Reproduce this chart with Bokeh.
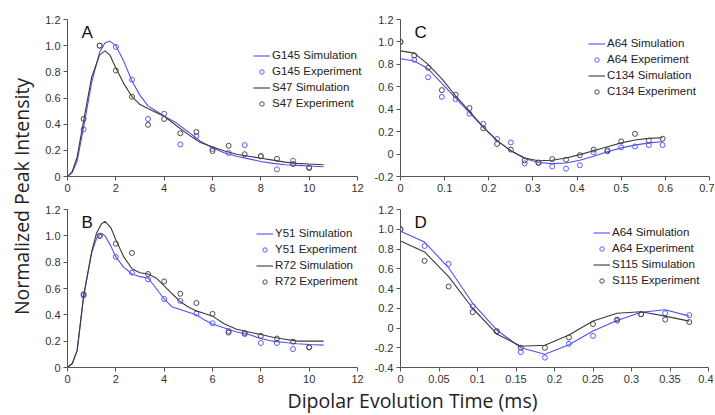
import math
from bokeh.plotting import figure
from bokeh.models import Range1d, FixedTicker, Legend, LegendItem, Label
from bokeh.layouts import row, column
from bokeh.embed import file_html
from bokeh.resources import INLINE
from bokeh.core.properties import value

# ---------------- data ----------------
# Panel A
a_exp_x = [0.667, 1.333, 2.0, 2.667, 3.333, 4.0, 4.667, 5.333, 6.0, 6.667, 7.333, 8.0, 8.667, 9.333, 10.0]
a_g145_exp = [0.36, 1.0, 0.99, 0.74, 0.44, 0.48, 0.245, 0.31, 0.21, 0.18, 0.24, 0.155, 0.055, 0.12, 0.07]
a_s47_exp = [0.44, 1.0, 0.81, 0.61, 0.395, 0.44, 0.33, 0.34, 0.195, 0.235, 0.17, 0.155, 0.135, 0.095, 0.065]
a_sim_x = [0, 0.2, 0.4, 0.67, 1.0, 1.33, 1.55, 1.75, 2.0, 2.33, 2.67, 3.0, 3.33, 3.67, 4.0, 4.5, 5.0,
           5.5, 6.0, 6.5, 7.0, 7.5, 8.0, 8.5, 9.0, 9.5, 10.0, 10.6]
a_g145_sim = [0, 0.03, 0.12, 0.38, 0.72, 0.95, 1.02, 1.035, 1.0, 0.88, 0.73, 0.62, 0.54, 0.5, 0.46, 0.41,
              0.34, 0.27, 0.22, 0.18, 0.155, 0.135, 0.115, 0.1, 0.09, 0.085, 0.08, 0.075]
a_s47_sim = [0, 0.04, 0.15, 0.43, 0.76, 0.93, 0.96, 0.93, 0.83, 0.71, 0.61, 0.55, 0.52, 0.49, 0.46, 0.39,
             0.32, 0.26, 0.225, 0.195, 0.17, 0.155, 0.14, 0.125, 0.11, 0.1, 0.095, 0.09]

# Panel B
b_exp_x = [0.667, 1.333, 2.0, 2.667, 3.333, 4.0, 4.667, 5.333, 6.0, 6.667, 7.333, 8.0, 8.667, 9.333, 10.0]
b_y51_exp = [0.547, 1.0, 0.84, 0.72, 0.67, 0.52, 0.506, 0.41, 0.336, 0.277, 0.254, 0.186, 0.186, 0.14, 0.153]
b_r72_exp = [0.557, 1.0, 0.94, 0.87, 0.71, 0.654, 0.56, 0.49, 0.407, 0.265, 0.262, 0.24, 0.22, 0.196, 0.153]
b_sim_x = [0, 0.2, 0.4, 0.67, 1.0, 1.2, 1.4, 1.55, 1.8, 2.0, 2.33, 2.67, 3.0, 3.33, 3.67, 4.0, 4.33, 4.67,
           5.0, 5.33, 5.67, 6.0, 6.5, 7.0, 7.5, 8.0, 8.5, 9.0, 9.5, 10.0, 10.6]
b_y51_sim = [0, 0.03, 0.13, 0.54, 0.87, 0.98, 1.02, 1.0, 0.92, 0.84, 0.76, 0.71, 0.69, 0.68, 0.6, 0.52,
             0.46, 0.44, 0.42, 0.4, 0.36, 0.33, 0.3, 0.27, 0.25, 0.22, 0.2, 0.19, 0.18, 0.175, 0.17]
b_r72_sim = [0, 0.03, 0.13, 0.55, 0.88, 1.02, 1.09, 1.11, 1.06, 0.97, 0.84, 0.75, 0.72, 0.71, 0.68, 0.62,
             0.56, 0.5, 0.46, 0.43, 0.41, 0.39, 0.33, 0.29, 0.27, 0.25, 0.23, 0.215, 0.2, 0.2, 0.2]

# Panel C
c_x = [0, 0.03125, 0.0625, 0.09375, 0.125, 0.15625, 0.1875, 0.21875, 0.25, 0.28125, 0.3125, 0.34375,
       0.375, 0.40625, 0.4375, 0.46875, 0.5, 0.53125, 0.5625, 0.59375]
c_a64_exp = [1.0, 0.84, 0.685, 0.51, 0.49, 0.36, 0.27, 0.134, 0.104, -0.083, -0.08, -0.11, -0.13, -0.1,
             0.015, 0.024, 0.06, 0.068, 0.08, 0.08]
c_c134_exp = [1.0, 0.88, 0.77, 0.57, 0.53, 0.41, 0.23, 0.09, 0.04, -0.057, -0.075, -0.045, -0.05, -0.01,
              0.04, 0.033, 0.113, 0.18, 0.12, 0.137]
c_a64_sim = [0.85, 0.83, 0.76, 0.63, 0.5, 0.37, 0.24, 0.12, 0.03, -0.04, -0.075, -0.085, -0.08, -0.055,
             -0.02, 0.02, 0.055, 0.08, 0.1, 0.11]
c_c134_sim = [0.92, 0.9, 0.8, 0.67, 0.52, 0.38, 0.24, 0.12, 0.03, -0.035, -0.06, -0.055, -0.035, -0.005,
              0.03, 0.065, 0.1, 0.125, 0.14, 0.145]

# Panel D
d_x = [0, 0.03125, 0.0625, 0.09375, 0.125, 0.15625, 0.1875, 0.21875, 0.25, 0.28125, 0.3125, 0.34375, 0.375]
d_a64_exp = [1.0, 0.83, 0.65, 0.22, -0.034, -0.244, -0.3, -0.16, -0.08, 0.075, 0.14, 0.15, 0.13]
d_s115_exp = [1.0, 0.68, 0.42, 0.16, -0.034, -0.2, -0.2, -0.095, 0.04, 0.085, 0.14, 0.085, 0.06]
d_a64_sim = [0.98, 0.87, 0.61, 0.25, -0.02, -0.2, -0.265, -0.17, -0.03, 0.075, 0.16, 0.185, 0.12]
d_s115_sim = [0.88, 0.77, 0.52, 0.2, -0.06, -0.185, -0.175, -0.07, 0.07, 0.15, 0.165, 0.12, 0.07]

# ticks
ab_xticks = [0, 2, 4, 6, 8, 10, 12]
ab_xlabels = ["0", "2", "4", "6", "8", "10", "12"]
ab_yticks = [0, 0.2, 0.4, 0.6, 0.8, 1.0, 1.2]
ab_ylabels = ["0", "0.2", "0.4", "0.6", "0.8", "1.0", "1.2"]
c_xticks = [0, 0.1, 0.2, 0.3, 0.4, 0.5, 0.6, 0.7]
c_xlabels = ["0", "0.1", "0.2", "0.3", "0.4", "0.5", "0.6", "0.7"]
c_yticks = [-0.2, 0, 0.2, 0.4, 0.6, 0.8, 1.0, 1.2]
c_ylabels = ["-0.2", "0", "0.2", "0.4", "0.6", "0.8", "1.0", "1.2"]
d_xticks = [0, 0.05, 0.1, 0.15, 0.2, 0.25, 0.3, 0.35, 0.4]
d_xlabels = ["0", "0.05", "0.1", "0.15", "0.2", "0.25", "0.3", "0.35", "0.4"]
d_yticks = [-0.4, -0.2, 0, 0.2, 0.4, 0.6, 0.8, 1.0, 1.2]
d_ylabels = ["-0.4", "-0.2", "0", "0.2", "0.4", "0.6", "0.8", "1.0", "1.2"]

BLUE = "#4f4ff5"
BLUE_PT = "#5a5aff"
DARK = "#3a3a3a"
DARK_PT = "#4a4a4a"
AXIS = "#555555"


def panel(xr, xmax_axis, yr, xt, xl, yt, yl, fw, fh, mbl, mbr, mbt, mbb):
    p = figure(frame_width=fw, frame_height=fh, x_range=Range1d(*xr), y_range=Range1d(*yr),
               output_backend="svg", toolbar_location=None,
               min_border_left=mbl, min_border_right=mbr, min_border_top=mbt, min_border_bottom=mbb)
    p.outline_line_color = None
    p.grid.visible = False
    p.background_fill_color = "white"
    p.border_fill_color = "white"
    p.xaxis.ticker = FixedTicker(ticks=xt)
    p.xaxis.major_label_overrides = dict(zip(xt, xl))
    p.xaxis.bounds = (xr[0], xmax_axis)
    p.yaxis.ticker = FixedTicker(ticks=yt)
    p.yaxis.major_label_overrides = dict(zip(yt, yl))
    for ax in (p.xaxis[0], p.yaxis[0]):
        ax.axis_line_color = AXIS
        ax.major_tick_line_color = AXIS
        ax.major_tick_in = 0
        ax.major_tick_out = 4
        ax.minor_tick_line_color = None
        ax.major_label_text_font = "Liberation Sans"
        ax.major_label_text_font_size = "11px"
        ax.major_label_text_color = "#333333"
        ax.major_label_standoff = 3
    return p


def add_series(p, sim_x, exp_x, s1, e1, s2, e2, names, loc, letter):
    r1 = p.line(sim_x, s1, line_color=BLUE, line_width=1.1)
    r2 = p.scatter(exp_x, e1, marker="circle", size=5, fill_color=None, line_color=BLUE_PT, line_width=1)
    r3 = p.line(sim_x, s2, line_color=DARK, line_width=1.1)
    r4 = p.scatter(exp_x, e2, marker="circle", size=5, fill_color=None, line_color=DARK_PT, line_width=1)
    items = [LegendItem(label=value(n), renderers=[r]) for n, r in zip(names, [r1, r2, r3, r4])]
    leg = Legend(items=items, location=loc, glyph_width=17, glyph_height=11, label_height=16,
                 label_standoff=2, spacing=0, padding=0, margin=0,
                 border_line_color=None, background_fill_alpha=0,
                 label_text_font="Liberation Sans", label_text_font_size="11.5px",
                 label_text_color="#222222")
    p.add_layout(leg)
    p.add_layout(Label(x=14, y=p.frame_height - 3, x_units="screen", y_units="screen", text=letter,
                       text_font="Liberation Sans", text_font_size="17px", text_color="#111111",
                       text_baseline="top", text_align="left"))


# A/B: 12 units over 290 px, frame extended to 304 px so legend text is not clipped
pA = panel((0, 12 * 304 / 290), 12, (0, 1.2), ab_xticks, ab_xlabels, ab_yticks, ab_ylabels,
           304, 157, 32, 0, 19, 21)
add_series(pA, a_sim_x, a_exp_x, a_g145_sim, a_g145_exp, a_s47_sim, a_s47_exp,
           ["G145 Simulation", "G145 Experiment", "S47 Simulation", "S47 Experiment"], (186, 65), "A")

pC = panel((0, 0.7 * 314 / 309), 0.7, (-0.2, 1.2), c_xticks, c_xlabels, c_yticks, c_ylabels,
           314, 157, 27, 0, 19, 21)
add_series(pC, c_x, c_x, c_a64_sim, c_a64_exp, c_c134_sim, c_c134_exp,
           ["A64 Simulation", "A64 Experiment", "C134 Simulation", "C134 Experiment"], (188, 77), "C")

pB = panel((0, 12 * 304 / 290), 12, (0, 1.2), ab_xticks, ab_xlabels, ab_yticks, ab_ylabels,
           304, 158, 32, 0, 12, 20)
add_series(pB, b_sim_x, b_exp_x, b_y51_sim, b_y51_exp, b_r72_sim, b_r72_exp,
           ["Y51 Simulation", "Y51 Experiment", "R72 Simulation", "R72 Experiment"], (189, 78), "B")

pD = panel((0, 0.4 * 313 / 308), 0.4, (-0.4, 1.2), d_xticks, d_xlabels, d_yticks, d_ylabels,
           313, 158, 28, 0, 12, 20)
add_series(pD, d_x, d_x, d_a64_sim, d_a64_exp, d_s115_sim, d_s115_exp,
           ["A64 Simulation", "A64 Experiment", "S115 Simulation", "S115 Experiment"], (193, 79), "D")


def text_fig(w, h):
    f = figure(width=w, height=h, output_backend="svg", toolbar_location=None,
               x_range=Range1d(0, w), y_range=Range1d(0, h), min_border=0)
    f.axis.visible = False
    f.grid.visible = False
    f.outline_line_color = None
    return f


xlab = text_fig(677, 27)
xlab.add_layout(Label(x=377, y=14, x_units="screen", y_units="screen", text="Dipolar Evolution Time (ms)",
                      text_font="Open Sans", text_font_size="19.5px", text_color="#222222",
                      text_align="center", text_baseline="middle"))

ylab = text_fig(35, 414)
ylab.add_layout(Label(x=21, y=218, x_units="screen", y_units="screen", text="Normalized Peak Intensity",
                      angle=math.pi / 2, text_font="Open Sans", text_font_size="19.5px",
                      text_color="#222222", text_align="center", text_baseline="middle"))

p = row(ylab, column(row(pA, pC), row(pB, pD), xlab))

open("out.html", "w").write(file_html(p, INLINE))
